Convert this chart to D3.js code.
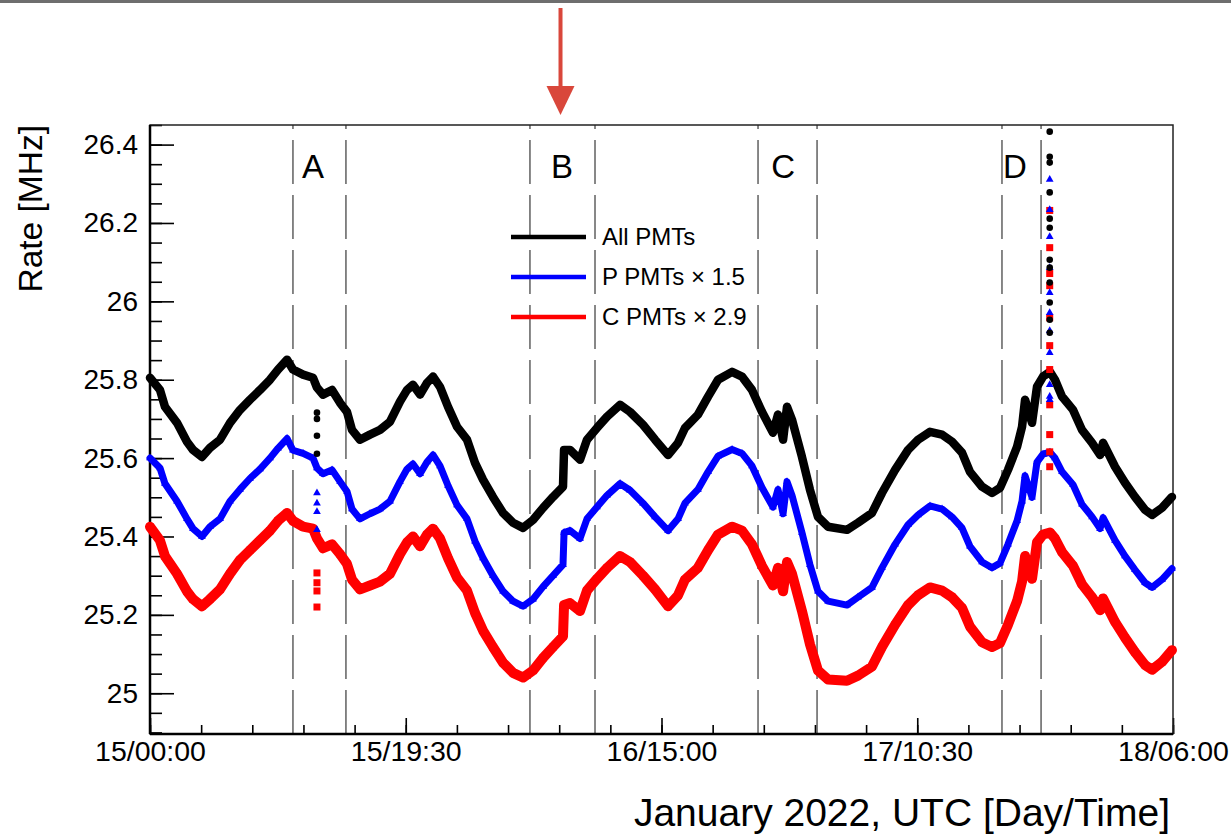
<!DOCTYPE html>
<html>
<head>
<meta charset="utf-8">
<script src="https://cdn.jsdelivr.net/npm/d3@7"></script>
<style>
  body { margin: 0; background: #fff; }
  text { font-family: "Liberation Sans", Arial, Helvetica, sans-serif; }
</style>
</head>
<body>
<div id="chart"></div>
<script>
// time in hours since 15 Jan 00:00 UTC
var hours = [0, 0.76, 1.14, 2.06, 2.82, 3.28, 3.96, 4.57, 5.34, 6.10, 6.86, 7.62, 8.39, 9.15, 9.76, 10.45,
  10.90, 11.67, 12.43, 12.73, 13.19, 13.88, 14.49, 15.02, 15.40, 16.01, 16.77, 17.54, 18.30, 19.06, 19.60,
  20.05, 20.59, 21.12, 21.58, 22.11, 22.72, 23.41, 24.17, 24.78, 25.39, 26.15, 26.92, 27.68, 28.44, 29.20,
  29.97, 30.73, 31.49, 31.57, 32.02, 32.79, 33.32, 34.08, 34.85, 35.84, 36.60, 37.59, 38.51, 39.50, 40.26,
  40.79, 41.78, 42.55, 43.31, 44.38, 45.14, 45.90, 46.66, 47.50, 47.88, 48.27, 48.57, 48.95, 49.71, 50.32,
  50.93, 51.70, 53.14, 53.98, 55.05, 55.81, 56.81, 57.80, 58.56, 59.47, 60.39, 61.15, 61.91, 62.52, 63.44,
  64.20, 64.81, 65.42, 66.11, 66.49, 66.72, 67.25, 67.63, 68.09, 68.62, 69.00, 69.54, 70.38, 71.06, 71.83,
  72.44, 72.67, 73.58, 74.34, 75.10, 75.87, 76.40, 77.16, 77.92];

var allPMTs = [25.805, 25.774, 25.731, 25.690, 25.642, 25.621, 25.603, 25.626, 25.647, 25.690, 25.723, 25.749,
  25.774, 25.800, 25.826, 25.851, 25.826, 25.813, 25.805, 25.780, 25.762, 25.774, 25.741, 25.718, 25.672,
  25.647, 25.660, 25.672, 25.693, 25.744, 25.774, 25.787, 25.762, 25.792, 25.808, 25.782, 25.731, 25.680,
  25.647, 25.588, 25.545, 25.501, 25.460, 25.435, 25.422, 25.442, 25.473, 25.501, 25.527, 25.621, 25.621,
  25.596, 25.647, 25.677, 25.706, 25.736, 25.718, 25.685, 25.647, 25.608, 25.639, 25.677, 25.711, 25.757,
  25.800, 25.820, 25.808, 25.774, 25.718, 25.665, 25.711, 25.647, 25.731, 25.698, 25.603, 25.519, 25.450,
  25.425, 25.417, 25.435, 25.460, 25.511, 25.570, 25.621, 25.647, 25.667, 25.660, 25.642, 25.614, 25.565,
  25.527, 25.511, 25.524, 25.570, 25.629, 25.680, 25.749, 25.690, 25.782, 25.808, 25.820, 25.800, 25.757,
  25.723, 25.672, 25.639, 25.608, 25.639, 25.578, 25.537, 25.501, 25.468, 25.455, 25.473, 25.501];

var pPMTs = [25.600, 25.575, 25.535, 25.490, 25.445, 25.420, 25.400, 25.425, 25.445, 25.490, 25.520, 25.548,
  25.572, 25.600, 25.625, 25.650, 25.620, 25.612, 25.600, 25.575, 25.560, 25.570, 25.540, 25.515, 25.470,
  25.445, 25.458, 25.470, 25.490, 25.540, 25.572, 25.585, 25.560, 25.590, 25.608, 25.580, 25.530, 25.480,
  25.445, 25.388, 25.345, 25.300, 25.260, 25.235, 25.222, 25.240, 25.272, 25.300, 25.328, 25.410, 25.415,
  25.395, 25.445, 25.475, 25.505, 25.535, 25.518, 25.485, 25.450, 25.415, 25.445, 25.485, 25.520, 25.565,
  25.605, 25.622, 25.612, 25.580, 25.525, 25.475, 25.520, 25.458, 25.540, 25.505, 25.410, 25.328, 25.260,
  25.235, 25.225, 25.245, 25.270, 25.320, 25.380, 25.430, 25.455, 25.478, 25.470, 25.450, 25.422, 25.375,
  25.335, 25.320, 25.332, 25.380, 25.440, 25.490, 25.555, 25.500, 25.590, 25.610, 25.615, 25.600, 25.565,
  25.532, 25.482, 25.450, 25.420, 25.448, 25.390, 25.350, 25.315, 25.282, 25.270, 25.290, 25.318];

var cPMTs = [25.425, 25.390, 25.350, 25.305, 25.260, 25.240, 25.222, 25.240, 25.265, 25.305, 25.340, 25.365,
  25.390, 25.415, 25.440, 25.460, 25.440, 25.425, 25.420, 25.395, 25.370, 25.380, 25.355, 25.330, 25.290,
  25.265, 25.275, 25.285, 25.305, 25.355, 25.385, 25.400, 25.375, 25.405, 25.420, 25.395, 25.345, 25.295,
  25.262, 25.205, 25.160, 25.118, 25.078, 25.052, 25.040, 25.058, 25.090, 25.118, 25.145, 25.225, 25.230,
  25.210, 25.262, 25.292, 25.320, 25.350, 25.335, 25.300, 25.265, 25.222, 25.250, 25.290, 25.320, 25.365,
  25.405, 25.425, 25.415, 25.380, 25.325, 25.275, 25.320, 25.260, 25.335, 25.305, 25.210, 25.125, 25.058,
  25.035, 25.032, 25.045, 25.068, 25.118, 25.175, 25.225, 25.250, 25.270, 25.262, 25.245, 25.218, 25.170,
  25.130, 25.118, 25.128, 25.175, 25.235, 25.285, 25.350, 25.292, 25.385, 25.405, 25.410, 25.395, 25.360,
  25.325, 25.278, 25.245, 25.212, 25.242, 25.182, 25.142, 25.105, 25.072, 25.060, 25.080, 25.110];

// isolated outliers (dropout in A, spike after D)
var dropHour = 12.73;
var dropAll = [25.716, 25.700, 25.657, 25.611];
var dropP = [25.511, 25.485, 25.463, 25.417];
var dropC = [25.307, 25.282, 25.261, 25.220];
var spikeHour = 68.6;
var spikeAll = [26.433, 26.369, 26.354, 26.278, 26.211, 26.188, 26.106, 26.086, 26.048, 25.997, 25.953, 25.920];
var spikeP = [26.311, 26.234, 26.165, 26.086, 26.022, 25.971, 25.925, 25.869, 25.787, 25.757, 25.749];
var spikeC = [26.232, 26.137, 26.071, 26.040, 25.958, 25.887, 25.826, 25.736, 25.660, 25.616, 25.578];

var periodNames = ["A", "B", "C", "D"];
var periodStart = [10.9, 28.97, 46.36, 64.96];
var periodEnd = [14.94, 33.93, 50.86, 67.94];
var periodLabelHour = [12.43, 31.41, 48.27, 65.95];
var arrowHour = 31.3;

var xTickHours = [0, 19.5, 39, 58.5, 78];
var xTickLabels = ["15/00:00", "15/19:30", "16/15:00", "17/10:30", "18/06:00"];
var yTicks = [25, 25.2, 25.4, 25.6, 25.8, 26, 26.2, 26.4];

var legendLabels = ["All PMTs", "P PMTs \u00d7 1.5", "C PMTs \u00d7 2.9"];
var seriesColors = ["#000000", "#0000ff", "#ff0000"];

var W = 1231, H = 834;
var margin = {top: 125, right: 58, bottom: 100, left: 150},
    width = W - margin.left - margin.right,
    height = 734 - margin.top;

var root = d3.select("#chart").append("svg")
    .attr("width", W)
    .attr("height", H);

root.append("rect").attr("width", W).attr("height", H).attr("fill", "#fff");
// thin grey strip along the very top
root.append("rect").attr("x", 0).attr("y", 0).attr("width", W).attr("height", 3).attr("fill", "#6e6e6e");

var svg = root.append("g")
    .attr("transform", "translate(" + margin.left + "," + margin.top + ")");

var x = d3.scaleLinear().domain([0, 78]).range([0, width]);
var y = d3.scaleLinear().domain([24.896, 26.45]).range([height, 0]);

// period boundaries
periodNames.forEach(function(name, i) {
  [periodStart[i], periodEnd[i]].forEach(function(h) {
    svg.append("line")
      .attr("x1", x(h)).attr("x2", x(h))
      .attr("y1", height).attr("y2", 0)
      .attr("stroke", "#555")
      .attr("stroke-width", 1.4)
      .attr("stroke-dasharray", "44,11");
  });
  svg.append("text")
    .attr("x", x(periodLabelHour[i]))
    .attr("y", 53)
    .attr("text-anchor", "middle")
    .style("font-size", "33px")
    .text(name);
});

// axes
var xMinor = d3.range(0, 78.01, 3.9);
svg.append("g")
    .attr("transform", "translate(0," + height + ")")
    .call(d3.axisBottom(x).tickValues(xMinor).tickSize(-9).tickFormat(""))
    .call(function(g) { g.select(".domain").remove(); g.selectAll("line").attr("stroke-width", 1.6); });
svg.append("g")
    .attr("transform", "translate(0," + height + ")")
    .call(d3.axisBottom(x).tickValues(xTickHours).tickSize(-16).tickPadding(7)
      .tickFormat(function(d, i) { return xTickLabels[i]; }))
    .call(function(g) {
      g.select(".domain").remove();
      g.selectAll("line").attr("stroke-width", 1.6);
      g.selectAll("text").style("font-size", "28.5px").attr("fill", "#000").attr("font-family", null);
    });

var yMinor = d3.range(24.9, 26.451, 0.05);
svg.append("g")
    .call(d3.axisLeft(y).tickValues(yMinor).tickSize(-12).tickFormat(""))
    .call(function(g) { g.select(".domain").remove(); g.selectAll("line").attr("stroke-width", 1.6); });
svg.append("g")
    .call(d3.axisLeft(y).tickValues(yTicks).tickSize(-24).tickPadding(12)
      .tickFormat(function(d) { return String(+d.toFixed(1)); }))
    .call(function(g) {
      g.select(".domain").remove();
      g.selectAll("line").attr("stroke-width", 1.6);
      g.selectAll("text").style("font-size", "28px").attr("fill", "#000").attr("font-family", null);
    });

// frame
svg.append("rect")
    .attr("width", width).attr("height", height)
    .attr("fill", "none").attr("stroke", "#222").attr("stroke-width", 1.5);
svg.append("line").attr("x1", 0).attr("x2", 0).attr("y1", 0).attr("y2", height)
    .attr("stroke", "#000").attr("stroke-width", 2.5);
svg.append("line").attr("x1", 0).attr("x2", width).attr("y1", height).attr("y2", height)
    .attr("stroke", "#000").attr("stroke-width", 2.5);

// series
var seriesValues = [allPMTs, pPMTs, cPMTs];
var bandWidth = [8.5, 7, 10];
var line = d3.line()
    .x(function(d) { return x(d[0]); })
    .y(function(d) { return y(d[1]); });

function marker(g, i, cx, cy) {
  if (i == 0) {
    g.append("circle").attr("cx", cx).attr("cy", cy).attr("r", 3.3).attr("fill", seriesColors[0]);
  } else if (i == 1) {
    g.append("path")
      .attr("d", d3.symbol().type(d3.symbolTriangle).size(26)())
      .attr("transform", "translate(" + cx + "," + cy + ")")
      .attr("fill", seriesColors[1]);
  } else {
    g.append("rect").attr("x", cx - 3.5).attr("y", cy - 3.5).attr("width", 7).attr("height", 7)
      .attr("fill", seriesColors[2]);
  }
}

[2, 1, 0].forEach(function(i) {
  var pts = hours.map(function(h, k) { return [h, seriesValues[i][k]]; });
  var g = svg.append("g");
  g.append("path")
    .datum(pts)
    .attr("d", line)
    .attr("fill", "none")
    .attr("stroke", seriesColors[i])
    .attr("stroke-width", bandWidth[i])
    .attr("stroke-linejoin", "round")
    .attr("stroke-linecap", "round");
  pts.forEach(function(p) { marker(g, i, x(p[0]), y(p[1])); });
});

var drops = [dropAll, dropP, dropC];
var spikes = [spikeAll, spikeP, spikeC];
[2, 1, 0].forEach(function(i) {
  var g = svg.append("g");
  drops[i].forEach(function(v) { marker(g, i, x(dropHour), y(v)); });
  spikes[i].forEach(function(v) { marker(g, i, x(spikeHour), y(v)); });
});

// legend
var legend = svg.append("g").attr("transform", "translate(361,112)");
legendLabels.forEach(function(lab, i) {
  var ly = i * 40;
  legend.append("line")
    .attr("x1", 0).attr("x2", 75).attr("y1", ly).attr("y2", ly)
    .attr("stroke", seriesColors[i]).attr("stroke-width", 4.5);
  legend.append("text")
    .attr("x", 91).attr("y", ly + 8)
    .style("font-size", "24px")
    .text(lab);
});

// arrow above the frame
var ax = margin.left + x(arrowHour);
root.append("line")
    .attr("x1", ax).attr("x2", ax).attr("y1", 8).attr("y2", 90)
    .attr("stroke", "#d9473b").attr("stroke-width", 4);
root.append("path")
    .attr("d", "M" + (ax - 14) + ",86 L" + (ax + 14) + ",86 L" + ax + ",115 Z")
    .attr("fill", "#d9473b");

// axis titles
root.append("text")
    .attr("x", 1170).attr("y", 826)
    .attr("text-anchor", "end")
    .style("font-size", "39px")
    .text("January 2022, UTC [Day/Time]");
root.append("text")
    .attr("transform", "translate(42,125) rotate(-90)")
    .attr("text-anchor", "end")
    .style("font-size", "33.5px")
    .text("Rate [MHz]");
</script>
</body>
</html>
